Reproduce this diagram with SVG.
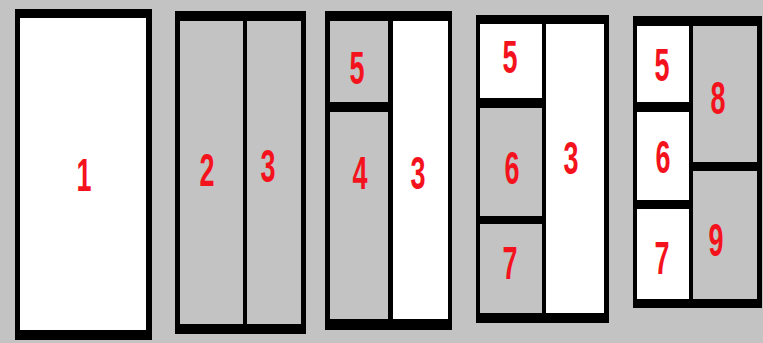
<svg xmlns="http://www.w3.org/2000/svg" width="763" height="343" viewBox="0 0 763 343">
<style>
.frame{fill:#000}
.g{fill:#c3c3c3}
.w{fill:#fff}
.n{font-family:"Liberation Sans",Arial,sans-serif;font-weight:bold;font-size:46px;fill:#f4121c;text-anchor:middle}
</style>
<rect width="763" height="343" fill="#c3c3c3"/>
<g id="panel1">
<rect class="frame" x="15" y="9" width="137" height="331"/>
<g id="p1-cell1"><rect class="w" x="20" y="18" width="126" height="312"/><text class="n" x="84" y="191" textLength="15" lengthAdjust="spacingAndGlyphs">1</text></g>
</g>
<g id="panel2">
<rect class="frame" x="175" y="11" width="131" height="323"/>
<g id="p2-cell2"><rect class="g" x="180" y="21" width="63" height="303"/><text class="n" x="207" y="186" textLength="15" lengthAdjust="spacingAndGlyphs">2</text></g>
<g id="p2-cell3"><rect class="g" x="247" y="21" width="54" height="303"/><text class="n" x="268" y="182" textLength="15" lengthAdjust="spacingAndGlyphs">3</text></g>
</g>
<g id="panel3">
<rect class="frame" x="325" y="11" width="127" height="319"/>
<g id="p3-cell5"><rect class="g" x="330" y="21" width="58" height="81"/><text class="n" x="357" y="84" textLength="15" lengthAdjust="spacingAndGlyphs">5</text></g>
<g id="p3-cell4"><rect class="g" x="330" y="112" width="58" height="207"/><text class="n" x="360" y="189" textLength="15" lengthAdjust="spacingAndGlyphs">4</text></g>
<g id="p3-cell3"><rect class="w" x="393" y="21" width="55" height="298"/><text class="n" x="418" y="189" textLength="15" lengthAdjust="spacingAndGlyphs">3</text></g>
</g>
<g id="panel4">
<rect class="frame" x="476" y="15" width="133" height="308"/>
<g id="p4-cell5"><rect class="w" x="480" y="24" width="62" height="74"/><text class="n" x="510" y="73" textLength="15" lengthAdjust="spacingAndGlyphs">5</text></g>
<g id="p4-cell6"><rect class="g" x="480" y="108" width="62" height="108"/><text class="n" x="512" y="184" textLength="15" lengthAdjust="spacingAndGlyphs">6</text></g>
<g id="p4-cell7"><rect class="g" x="480" y="224" width="62" height="89"/><text class="n" x="510" y="279" textLength="15" lengthAdjust="spacingAndGlyphs">7</text></g>
<g id="p4-cell3"><rect class="w" x="546" y="24" width="58" height="289"/><text class="n" x="571" y="174" textLength="15" lengthAdjust="spacingAndGlyphs">3</text></g>
</g>
<g id="panel5">
<rect class="frame" x="633" y="16" width="129" height="292"/>
<g id="p5-cell5"><rect class="w" x="637" y="26" width="52" height="76"/><text class="n" x="662" y="81" textLength="15" lengthAdjust="spacingAndGlyphs">5</text></g>
<g id="p5-cell6"><rect class="w" x="637" y="112" width="52" height="88"/><text class="n" x="663" y="173" textLength="15" lengthAdjust="spacingAndGlyphs">6</text></g>
<g id="p5-cell7"><rect class="w" x="637" y="209" width="52" height="90"/><text class="n" x="662" y="274" textLength="15" lengthAdjust="spacingAndGlyphs">7</text></g>
<g id="p5-cell8"><rect class="g" x="693" y="26" width="64" height="136"/><text class="n" x="718" y="114" textLength="15" lengthAdjust="spacingAndGlyphs">8</text></g>
<g id="p5-cell9"><rect class="g" x="693" y="171" width="64" height="128"/><text class="n" x="716" y="256" textLength="15" lengthAdjust="spacingAndGlyphs">9</text></g>
</g>
</svg>
